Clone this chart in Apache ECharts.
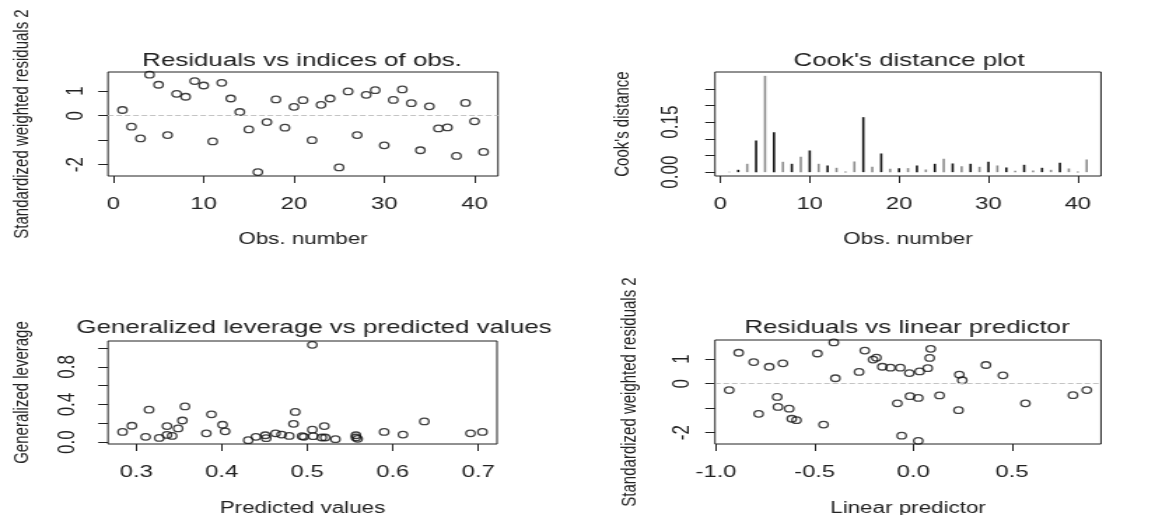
<!DOCTYPE html>
<html>
<head>
<meta charset="utf-8">
<script src="https://cdn.jsdelivr.net/npm/echarts@6/dist/echarts.min.js"></script>
<style>
  html, body { margin: 0; padding: 0; background: #fff; overflow: hidden; }
  #chart { height: 515px; transform-origin: 0 0; }
</style>
</head>
<body>
<div id="chart"></div>
<script>
// the reference picture is stretched sideways, so draw narrow and scale in x
const STRETCH = 1.4
const FONT = '"Liberation Sans", Arial, sans-serif'
const INK = '#222'

// observation numbers (panels 1 and 2)
const obsIndex = [1, 2, 3, 4, 5, 6, 7, 8, 9, 10, 11, 12, 13, 14, 15, 16, 17, 18, 19, 20,
  21, 22, 23, 24, 25, 26, 27, 28, 29, 30, 31, 32, 33, 34, 35, 36, 37, 38, 39, 40, 41]

// standardized weighted residuals 2, in observation order
const residByObs = [0.23, -0.45, -0.93, 1.67, 1.26, -0.79, 0.89, 0.77, 1.41, 1.23,
  -1.05, 1.34, 0.70, 0.15, -0.56, -2.30, -0.26, 0.66, -0.49, 0.36,
  0.63, -1.00, 0.44, 0.70, -2.11, 0.99, -0.79, 0.85, 1.04, -1.21,
  0.64, 1.07, 0.51, -1.41, 0.38, -0.52, -0.48, -1.64, 0.52, -0.23, -1.48]

// Cook's distance
const cookDist = [0.001, 0.007, 0.025, 0.095, 0.289, 0.120, 0.031, 0.025, 0.046, 0.065,
  0.025, 0.020, 0.013, 0.001, 0.032, 0.165, 0.016, 0.056, 0.010, 0.012,
  0.012, 0.020, 0.008, 0.025, 0.040, 0.026, 0.018, 0.025, 0.016, 0.031,
  0.020, 0.014, 0.004, 0.022, 0.005, 0.013, 0.007, 0.028, 0.011, 0.001, 0.038]

// generalized leverage vs predicted values
const predicted = [0.284, 0.295, 0.311, 0.315, 0.327, 0.336, 0.336, 0.342, 0.349, 0.354,
  0.357, 0.382, 0.388, 0.401, 0.404, 0.431, 0.440, 0.451, 0.452, 0.463,
  0.470, 0.479, 0.484, 0.486, 0.494, 0.496, 0.506, 0.506, 0.507, 0.517,
  0.520, 0.521, 0.533, 0.557, 0.557, 0.559, 0.590, 0.612, 0.637, 0.691, 0.705]
const leverage = [0.108, 0.174, 0.056, 0.345, 0.045, 0.171, 0.077, 0.066, 0.146, 0.230,
  0.380, 0.094, 0.296, 0.185, 0.115, 0.021, 0.056, 0.073, 0.042, 0.094,
  0.080, 0.066, 0.195, 0.321, 0.063, 0.056, 1.035, 0.132, 0.063, 0.049,
  0.171, 0.049, 0.031, 0.073, 0.049, 0.035, 0.108, 0.080, 0.220, 0.094, 0.108]

// residuals vs linear predictor
const linPred = [-0.933, -0.885, -0.809, -0.784, -0.730, -0.690, -0.686, -0.661, -0.629, -0.616,
  -0.592, -0.486, -0.455, -0.403, -0.395, -0.275, -0.246, -0.204, -0.187, -0.157,
  -0.116, -0.081, -0.066, -0.059, -0.020, -0.017, 0.025, 0.025, 0.032, 0.073,
  0.083, 0.088, 0.133, 0.229, 0.233, 0.248, 0.368, 0.454, 0.568, 0.809, 0.879]
const residByPred = [-0.26, 1.26, 0.88, -1.23, 0.69, -0.54, -0.95, 0.83, -1.02, -1.43,
  -1.49, 1.23, -1.67, 1.68, 0.22, 0.48, 1.35, 0.98, 1.06, 0.69,
  0.65, -0.80, 0.65, -2.12, 0.43, -0.51, -0.58, -2.33, 0.50, 0.63,
  1.05, 1.42, -0.48, -1.08, 0.37, 0.14, 0.76, 0.34, -0.80, -0.47, -0.26]

// axis ticks and labels
const obsTicks = [0, 10, 20, 30, 40]
const residTicks = [-2, -1, 0, 1]
const residLabels = [-2, 0, 1]
const cookTicks = [0, 0.05, 0.10, 0.15, 0.20, 0.25]
const cookLabels = [0, 0.15]
const predTicks = [0.3, 0.4, 0.5, 0.6, 0.7]
const levTicks = [0, 0.2, 0.4, 0.6, 0.8, 1.0]
const levLabels = [0, 0.4, 0.8]
const linTicks = [-1, -0.5, 0, 0.5]

const titles = ['Residuals vs indices of obs.', "Cook's distance plot",
  'Generalized leverage vs predicted values', 'Residuals vs linear predictor']

const pairs = (xs, ys) => xs.map((x, i) => [x, ys[i]])

const W = 1160 / STRETCH
const el = document.getElementById('chart')
el.style.width = W + 'px'
el.style.transform = 'scaleX(' + STRETCH + ')'

// plot boxes in picture pixels: x0, x1, y0, y1
const boxes = [
  [108, 498, 72, 176],
  [715, 1101, 72, 176],
  [108, 497, 341, 444],
  [715, 1101, 340, 444]
]

const grid = boxes.map(b => ({
  left: b[0] / STRETCH,
  width: (b[1] - b[0]) / STRETCH,
  top: b[2],
  height: b[3] - b[2],
  show: true,
  borderColor: INK,
  borderWidth: 1,
  containLabel: false,
  outerBoundsMode: 'none'
}))

const tickFont = { fontFamily: FONT, fontSize: 17, color: INK }

function xAxis(gi, min, max, ticks, fmt, name, gap) {
  return {
    type: 'value', gridIndex: gi, min, max,
    axisLine: { show: false, onZero: false },
    splitLine: { show: false },
    axisTick: { customValues: ticks, length: 7, lineStyle: { color: INK } },
    axisLabel: { customValues: ticks, formatter: fmt, margin: 20, ...tickFont },
    name, nameLocation: 'middle', nameGap: gap,
    nameTextStyle: { fontFamily: FONT, fontSize: 16, color: INK }
  }
}

function yAxis(gi, min, max, ticks, labels, fmt, name, margin, gap) {
  return {
    type: 'value', gridIndex: gi, min, max,
    axisLine: { show: false, onZero: false },
    splitLine: { show: false },
    axisTick: { customValues: ticks, length: 7, lineStyle: { color: INK } },
    axisLabel: { customValues: labels, formatter: fmt, rotate: 90, margin, ...tickFont },
    name, nameLocation: 'middle', nameGap: gap,
    nameMoveOverlap: false,
    nameTextStyle: { fontFamily: FONT, fontSize: 15, color: INK }
  }
}

const fix = d => v => v.toFixed(d)
const plain = v => String(v)

const zeroLine = {
  silent: true,
  symbol: 'none',
  label: { show: false },
  lineStyle: { type: 'dashed', color: '#c4c4c4', width: 1 },
  data: [{ yAxis: 0 }]
}

const ring = {
  type: 'scatter',
  symbol: 'circle',
  symbolSize: 6.5,
  itemStyle: { color: 'rgba(0,0,0,0)', borderColor: '#111', borderWidth: 1.3 },
  emphasis: { disabled: true }
}

const titleCenters = [[302, 61], [909, 61], [314, 328], [907, 328]]

const chart = echarts.init(el)
chart.setOption({
  animation: false,
  backgroundColor: '#fff',
  grid,
  xAxis: [
    xAxis(0, -0.6, 42.6, obsTicks, plain, 'Obs. number', 56),
    xAxis(1, -0.6, 42.6, obsTicks, plain, 'Obs. number', 56),
    xAxis(2, 0.267, 0.722, predTicks, fix(1), 'Predicted values', 57),
    xAxis(3, -1.005, 0.951, linTicks, fix(1), 'Linear predictor', 57)
  ],
  yAxis: [
    yAxis(0, -2.46, 1.78, residTicks, residLabels, plain, 'Standardized weighted residuals 2', 14.5, 54),
    yAxis(1, -0.0116, 0.3006, cookTicks, cookLabels, fix(2), "Cook's distance", 23, 58),
    yAxis(2, -0.02, 1.076, levTicks, levLabels, fix(1), 'Generalized leverage', 20, 53.5),
    yAxis(3, -2.46, 1.78, residTicks, residLabels, plain, 'Standardized weighted residuals 2', 15, 53)
  ],
  graphic: titles.map((t, i) => ({
    type: 'text',
    x: titleCenters[i][0] / STRETCH,
    y: titleCenters[i][1],
    silent: true,
    style: {
      text: t,
      fill: INK,
      font: '18.5px ' + FONT,
      align: 'center',
      verticalAlign: 'middle'
    }
  })),
  series: [
    { ...ring, xAxisIndex: 0, yAxisIndex: 0, data: pairs(obsIndex, residByObs), markLine: zeroLine },
    {
      type: 'bar', xAxisIndex: 1, yAxisIndex: 1,
      data: pairs(obsIndex, cookDist),
      barWidth: 1.6,
      itemStyle: { color: p => (p.dataIndex % 2 === 0 ? '#8c8c8c' : '#111') },
      emphasis: { disabled: true }
    },
    { ...ring, xAxisIndex: 2, yAxisIndex: 2, data: pairs(predicted, leverage) },
    { ...ring, xAxisIndex: 3, yAxisIndex: 3, data: pairs(linPred, residByPred), markLine: zeroLine }
  ]
})
</script>
</body>
</html>
